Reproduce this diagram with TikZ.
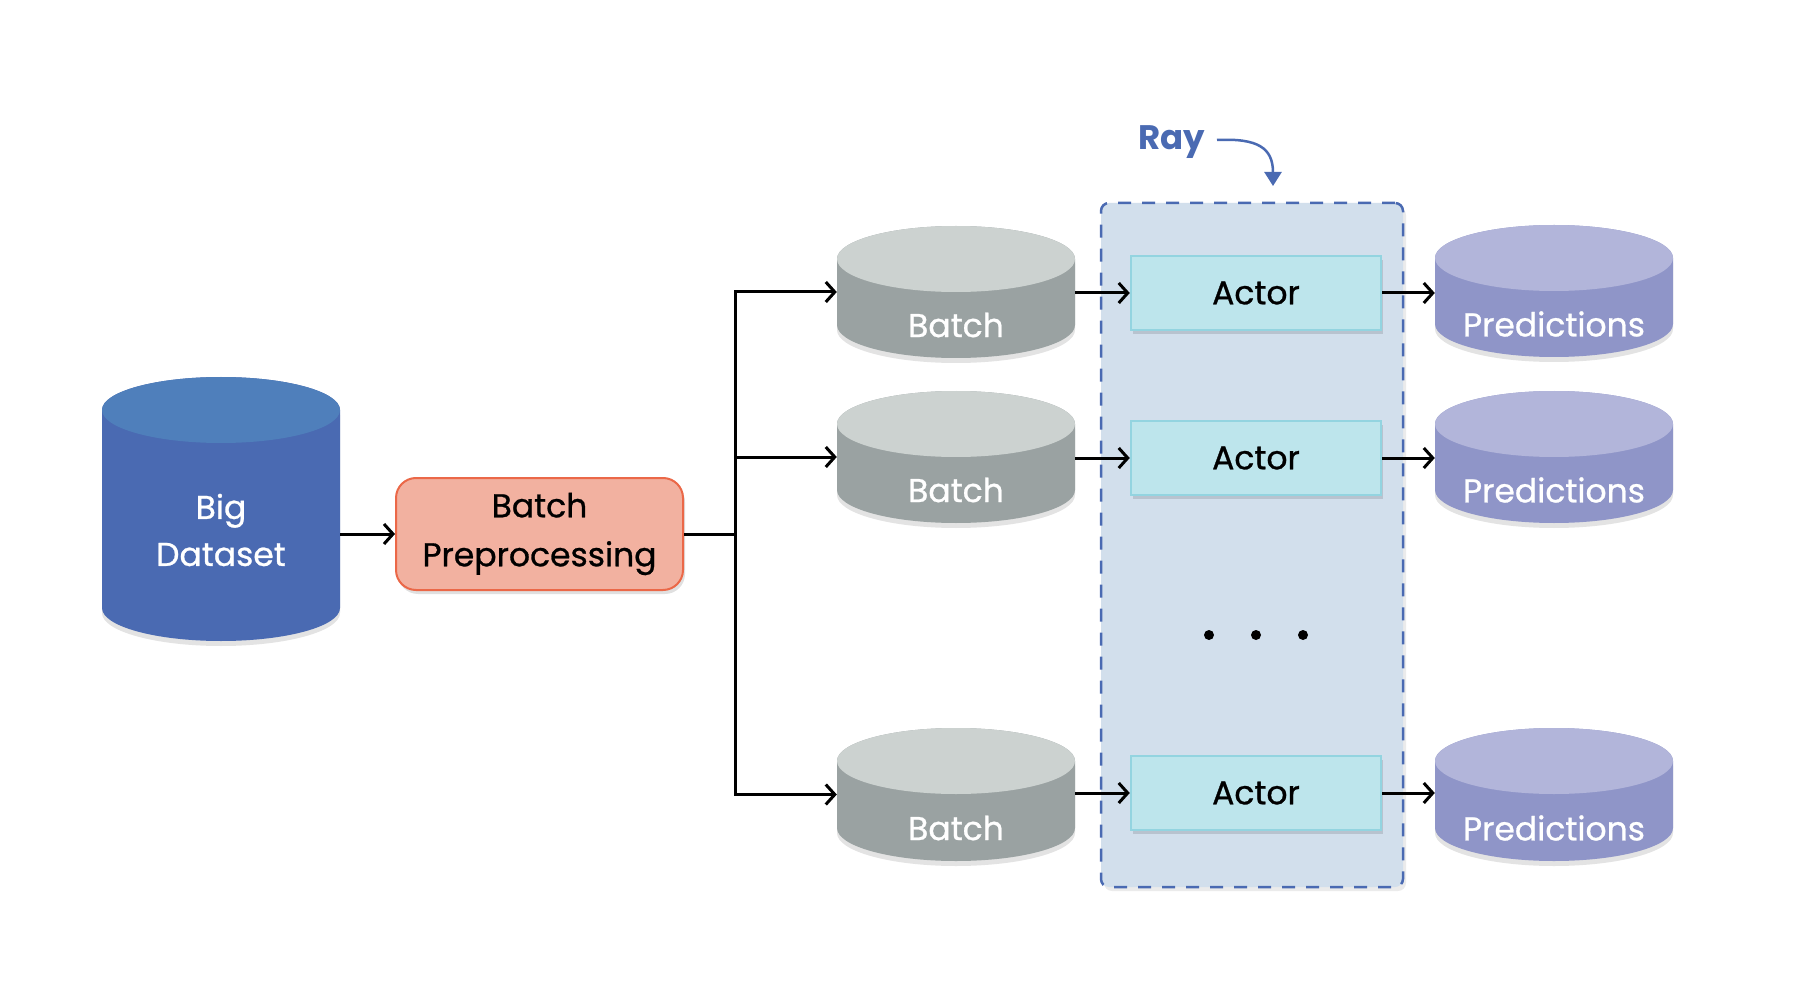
\documentclass[tikz,border=0pt]{standalone}
\usepackage{fontspec}
\setmainfont{Poppins}
\newfontfamily\medfont{Poppins}[FakeBold=0.8]
\usetikzlibrary{arrows.meta,shadows}
\definecolor{dsbody}{HTML}{4A6AB2}
\definecolor{dstop}{HTML}{4F7FBB}
\definecolor{ppfill}{HTML}{F2B1A0}
\definecolor{ppdraw}{HTML}{EB6848}
\definecolor{btbody}{HTML}{9AA2A2}
\definecolor{bttop}{HTML}{CCD2D0}
\definecolor{rayfill}{HTML}{D2DFEC}
\definecolor{raybl}{HTML}{4A6AB2}
\definecolor{acfill}{HTML}{BDE5EC}
\definecolor{acdraw}{HTML}{93D4E0}
\definecolor{prbody}{HTML}{8F95C8}
\definecolor{prtop}{HTML}{B2B5DA}
\newcommand\mycyl[8]{%
  \fill[#5, cylshadow] (#2-119,#3+33) -- (#2-119,#4-33)
    arc[start angle=180,end angle=360,x radius=119pt,y radius=33pt]
    -- (#2+119,#3+33)
    arc[start angle=0,end angle=180,x radius=119pt,y radius=33pt] -- cycle;
  \fill[#6] (#2,#3+33) ellipse[x radius=119pt,y radius=33pt];
  \node[inner sep=0pt, minimum width=238pt, minimum height={#4-#3}] (#1) at (#2,{(#3+#4)/2}) {};
  \node[cyltext] (#1t) at (#2,#8) {#7};
}
\begin{document}
\begin{tikzpicture}[x=1pt,y=-1pt,
  cylshadow/.style={drop shadow={shadow xshift=0pt,shadow yshift=-5pt,opacity=0.11,fill=black}},
  boxshadow/.style={drop shadow={shadow xshift=2pt,shadow yshift=-4pt,opacity=0.12,fill=black}},
  cyltext/.style={text=white, font=\medfont\fontsize{33}{47}\selectfont, align=center, inner sep=0pt},
  ppbox/.style={rectangle, rounded corners=20pt, fill=ppfill, draw=ppdraw, line width=2pt,
    minimum width=287pt, minimum height=112pt, font=\medfont\fontsize{33}{49}\selectfont, align=center, boxshadow},
  actor/.style={rectangle, fill=acfill, draw=acdraw, line width=2.5pt,
    minimum width=250pt, minimum height=74pt, font=\medfont\fontsize{33}{40}\selectfont, boxshadow},
  conn/.style={draw=black, line width=3pt, -{Straight Barb[length=9pt,width=20pt]}},
  plain/.style={draw=black, line width=3pt}
]
\useasboundingbox (0,0) rectangle (1800,1000);
\fill[white] (0,0) rectangle (1800,1000);

% Ray region
\node[rectangle, rounded corners=8pt, fill=rayfill, draw=raybl, line width=2.5pt,
  dash pattern=on 13pt off 11pt, minimum width=302pt, minimum height=684pt,
  drop shadow={shadow xshift=3pt,shadow yshift=-4pt,opacity=0.08,fill=black}] (ray) at (1252,545) {};

% Big dataset
\mycyl{bd}{221}{377}{641}{dsbody}{dstop}{Big\\Dataset}{530}

% Preprocessing
\node[ppbox] (pp) at (539.5,534) {Batch\\Preprocessing};

% Batches
\mycyl{b1}{956}{226}{358}{btbody}{bttop}{Batch}{325}
\mycyl{b2}{956}{391}{523}{btbody}{bttop}{Batch}{490}
\mycyl{b3}{956}{728}{861}{btbody}{bttop}{Batch}{828}

% Predictions
\mycyl{p1}{1554}{225}{357}{prbody}{prtop}{Predictions}{324}
\mycyl{p2}{1554}{391}{523}{prbody}{prtop}{Predictions}{490}
\mycyl{p3}{1554}{728}{861}{prbody}{prtop}{Predictions}{828}

% Actors
\node[actor] (a1) at (1256,293) {Actor};
\node[actor] (a2) at (1256,458) {Actor};
\node[actor] (a3) at (1256,793) {Actor};

% dots
\fill[black] (1209,635) circle[radius=5pt];
\fill[black] (1256,635) circle[radius=5pt];
\fill[black] (1303,635) circle[radius=5pt];

% Ray label
\node[font=\fontsize{34}{40}\selectfont\bfseries, text=raybl, anchor=base west, inner sep=0pt] (raylbl) at (1138,150) {Ray};
\coordinate (raystart) at (1217,140);
\coordinate (raytip) at (1273,186);
\draw[raybl, line width=2.5pt, -{Triangle[length=14pt,width=17pt]}]
  (raystart) .. controls (1258,138) and (1273,148) .. (raytip);

% connectors
\draw[conn] (bd.east |- pp.west) -- (pp.west);
\coordinate (split) at (735,534);
\draw[plain] (pp.east) -- (split);
\draw[conn] (split) |- (b1.west);
\draw[conn] (split) |- (b2.west);
\draw[conn] (split) |- (b3.west);
\draw[conn] (b1.east |- a1.west) -- (a1.west);
\draw[conn] (b2.east |- a2.west) -- (a2.west);
\draw[conn] (b3.east |- a3.west) -- (a3.west);
\draw[conn] (a1.east) -- (p1.west |- a1.east);
\draw[conn] (a2.east) -- (p2.west |- a2.east);
\draw[conn] (a3.east) -- (p3.west |- a3.east);
\end{tikzpicture}
\end{document}
